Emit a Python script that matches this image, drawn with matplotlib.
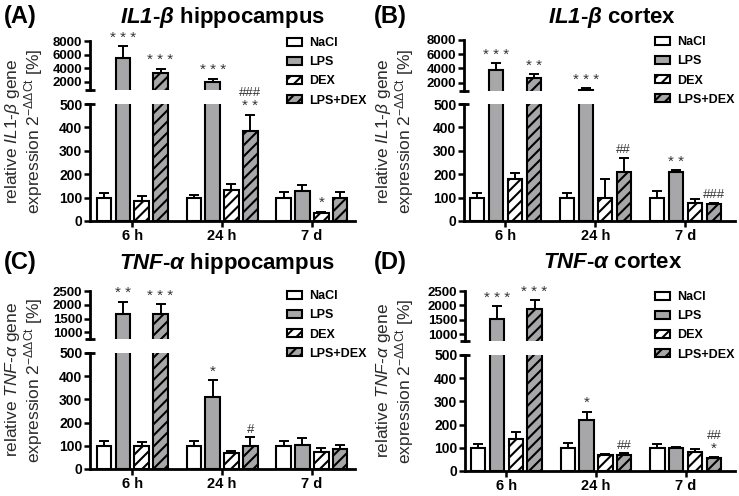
import numpy as np
import matplotlib
matplotlib.use("Agg")
import matplotlib.pyplot as plt

plt.rcParams['font.family'] = ['Liberation Sans', 'DejaVu Sans']
plt.rcParams['mathtext.fontset'] = 'custom'
plt.rcParams['mathtext.rm'] = 'Liberation Sans'
plt.rcParams['mathtext.it'] = 'Liberation Sans:italic'
plt.rcParams['mathtext.bf'] = 'Liberation Sans:bold'
plt.rcParams['mathtext.bfit'] = 'Liberation Sans:italic:bold'
plt.rcParams['hatch.linewidth'] = 1.5

# ---------------- data ----------------
groups = ['6 h', '24 h', '7 d']
treatments = ['NaCl', 'LPS', 'DEX', 'LPS+DEX']

# Panel A: IL1-beta hippocampus
A_mean = {'NaCl': [100, 100, 100], 'LPS': [5450, 2000, 127],
          'DEX': [84, 131, 35], 'LPS+DEX': [3300, 383, 98]}
A_err = {'NaCl': [18, 12, 24], 'LPS': [1800, 440, 27],
         'DEX': [23, 25, 5], 'LPS+DEX': [650, 72, 24]}
A_star = {'LPS': ['***', '***', ''], 'DEX': ['', '', '*'], 'LPS+DEX': ['***', '**', '']}
A_hash = {'LPS+DEX': ['', '###', '']}

# Panel B: IL1-beta cortex
B_mean = {'NaCl': [100, 100, 100], 'LPS': [3800, 1000, 209],
          'DEX': [178, 100, 79], 'LPS+DEX': [2600, 209, 72]}
B_err = {'NaCl': [21, 20, 28], 'LPS': [950, 200, 9],
         'DEX': [28, 78, 14], 'LPS+DEX': [560, 61, 7]}
B_star = {'LPS': ['***', '***', '**'], 'LPS+DEX': ['**', '', '']}
B_hash = {'LPS+DEX': ['', '##', '###']}

# Panel C: TNF-alpha hippocampus
C_mean = {'NaCl': [100, 100, 100], 'LPS': [1665, 311, 104],
          'DEX': [100, 71, 75], 'LPS+DEX': [1665, 100, 86]}
C_err = {'NaCl': [20, 20, 20], 'LPS': [450, 72, 30],
         'DEX': [17, 7, 17], 'LPS+DEX': [350, 38, 16]}
C_star = {'LPS': ['**', '*', ''], 'LPS+DEX': ['***', '', '']}
C_hash = {'LPS+DEX': ['', '#', '']}

# Panel D: TNF-alpha cortex
D_mean = {'NaCl': [100, 100, 100], 'LPS': [1510, 220, 98],
          'DEX': [140, 70, 84], 'LPS+DEX': [1875, 68, 57]}
D_err = {'NaCl': [15, 20, 15], 'LPS': [455, 36, 6],
         'DEX': [26, 3, 12], 'LPS+DEX': [315, 8, 4]}
D_star = {'LPS': ['***', '*', ''], 'LPS+DEX': ['***', '', '*']}
D_hash = {'LPS+DEX': ['', '##', '##']}

A_upper_ticks = [2000, 4000, 6000, 8000]
C_upper_ticks = [1000, 1500, 2000, 2500]
lower_ticks = [0, 100, 200, 300, 400, 500]

# ---------------- style ----------------
W, H = 739, 496
fig = plt.figure(figsize=(W / 100, H / 100), dpi=100)

facecolors = {'NaCl': 'white', 'LPS': '#a7a7a9', 'DEX': 'white', 'LPS+DEX': '#a7a7a9'}
hatches = {'NaCl': None, 'LPS': None, 'DEX': '///', 'LPS+DEX': '///'}
offsets = [-0.315, -0.105, 0.105, 0.315]
bw = 0.16


def rect(x0, x1, ytop, ybot):
    return [x0 / W, 1 - ybot / H, (x1 - x0) / W, (ybot - ytop) / H]


def sig_text(s):
    if set(s) == {'*'}:
        return ' '.join(s)
    return s


panels = [
    dict(mean=A_mean, err=A_err, star=A_star, hsh=A_hash, uticks=A_upper_ticks, ulim=(800, 8000),
         lo=rect(90, 355, 104, 221), hi=rect(90, 355, 41, 90), xlim=(-0.47, 2.48),
         letter='(A)', lpos=(4, 17), gene=r'$\mathbfit{IL1}$-$\mathbfit{β}$', region=' hippocampus',
         tpos=(223, 18), ylab_gene=r'$\mathit{IL1}$-$\mathit{β}$', ylpos=(24, 131),
         legpos=(287, 37)),
    dict(mean=B_mean, err=B_err, star=B_star, hsh=B_hash, uticks=A_upper_ticks, ulim=(800, 8000),
         lo=rect(464, 735, 104, 221), hi=rect(464, 735, 40, 91), xlim=(-0.46, 2.55),
         letter='(B)', lpos=(374, 17), gene=r'$\mathbfit{IL1}$-$\mathbfit{β}$', region=' cortex',
         tpos=(612, 18), ylab_gene=r'$\mathit{IL1}$-$\mathit{β}$', ylpos=(395, 131),
         legpos=(655, 36)),
    dict(mean=C_mean, err=C_err, star=C_star, hsh=C_hash, uticks=C_upper_ticks, ulim=(760, 2500),
         lo=rect(90, 355, 353, 469), hi=rect(90, 355, 291, 339), xlim=(-0.47, 2.48),
         letter='(C)', lpos=(4, 262), gene=r'$\mathbfit{TNF}$-$\mathbfit{α}$', region=' hippocampus',
         tpos=(227, 264), ylab_gene=r'$\mathit{TNF}$-$\mathit{α}$', ylpos=(24, 380),
         legpos=(287, 290)),
    dict(mean=D_mean, err=D_err, star=D_star, hsh=D_hash, uticks=C_upper_ticks, ulim=(760, 2500),
         lo=rect(465, 735, 355, 471), hi=rect(465, 735, 291, 341), xlim=(-0.46, 2.55),
         letter='(D)', lpos=(374, 262), gene=r'$\mathbfit{TNF}$-$\mathbfit{α}$', region=' cortex',
         tpos=(613, 263), ylab_gene=r'$\mathit{TNF}$-$\mathit{α}$', ylpos=(395, 381),
         legpos=(655, 291)),
]

for p in panels:
    ax_lo = fig.add_axes(p['lo'])
    ax_hi = fig.add_axes(p['hi'])
    xg = np.arange(len(groups))
    handles = []
    for i, t in enumerate(treatments):
        x = xg + offsets[i]
        m = np.array(p['mean'][t], dtype=float)
        e = np.array(p['err'][t], dtype=float)
        for ax in (ax_lo, ax_hi):
            b = ax.bar(x, m, bw, color=facecolors[t], edgecolor='black', linewidth=1.5,
                       hatch=hatches[t], zorder=2)
            ax.errorbar(x, m, yerr=[np.zeros_like(e), e], fmt='none', ecolor='black',
                        elinewidth=1.4, capsize=3.5, capthick=1.4, zorder=1)
            if ax is ax_lo:
                handles.append(b)
        # significance marks
        stars = p['star'].get(t, [''] * 3)
        hs = p['hsh'].get(t, [''] * 3)
        for j in range(len(groups)):
            top = m[j] + e[j]
            ax = ax_hi if m[j] > 500 else ax_lo
            off = 1
            if stars[j]:
                ax.annotate(sig_text(stars[j]), (x[j], top), xytext=(0, off),
                            textcoords='offset points', ha='center', va='bottom',
                            fontsize=11, color='#333333', annotation_clip=False)
                off += 10
            if hs[j]:
                ax.annotate(hs[j], (x[j], top), xytext=(0, off),
                            textcoords='offset points', ha='center', va='bottom',
                            fontsize=9.5, color='#333333', annotation_clip=False)

    # lower axes
    ax_lo.set_xlim(*p['xlim'])
    ax_lo.set_ylim(0, 500)
    ax_lo.set_yticks(lower_ticks)
    ax_lo.set_xticks(xg)
    ax_lo.set_xticklabels(groups)
    for s in ('top', 'right'):
        ax_lo.spines[s].set_visible(False)
    for s in ('left', 'bottom'):
        ax_lo.spines[s].set_linewidth(2)
    ax_lo.tick_params(axis='y', direction='out', length=4, width=1.8, labelsize=10, pad=1.5)
    ax_lo.tick_params(axis='x', direction='out', length=4, width=1.8, labelsize=10.5, pad=2)
    for lab in ax_lo.get_xticklabels() + ax_lo.get_yticklabels():
        lab.set_fontweight('bold')
    ax_lo.plot(0, 1, marker='_', markersize=7, mew=2, color='black',
               transform=ax_lo.transAxes, clip_on=False)

    # upper axes
    ax_hi.set_xlim(*p['xlim'])
    ax_hi.set_ylim(*p['ulim'])
    ax_hi.set_yticks(p['uticks'])
    ax_hi.set_xticks([])
    for s in ('top', 'right', 'bottom'):
        ax_hi.spines[s].set_visible(False)
    ax_hi.spines['left'].set_linewidth(2)
    ax_hi.tick_params(axis='y', direction='out', length=4, width=1.8, labelsize=9.5, pad=1.5)
    for lab in ax_hi.get_yticklabels():
        lab.set_fontweight('bold')
    ax_hi.plot(0, 0, marker='_', markersize=7, mew=2, color='black',
               transform=ax_hi.transAxes, clip_on=False)
    ax_lo.patch.set_alpha(0)
    ax_hi.patch.set_alpha(0)

    # legend
    fig.legend(handles, treatments, loc='upper left',
               bbox_to_anchor=(p['legpos'][0] / W, 1 - p['legpos'][1] / H),
               bbox_transform=fig.transFigure, frameon=False, borderpad=0,
               borderaxespad=0, handlelength=1.2, handleheight=0.6, handletextpad=0.6,
               labelspacing=0.58, prop=dict(weight='bold', size=9))

    # texts
    fig.text(p['lpos'][0] / W, 1 - p['lpos'][1] / H, p['letter'], fontsize=17,
             fontweight='bold', ha='left', va='center')
    fig.text(p['tpos'][0] / W, 1 - p['tpos'][1] / H, p['gene'] + p['region'], fontsize=16,
             fontweight='bold', ha='center', va='center')
    ylab = ('relative ' + p['ylab_gene'] + ' gene\n'
            + r'expression $\mathregular{2^{-ΔΔCt}}$ [%]')
    fig.text(p['ylpos'][0] / W, 1 - p['ylpos'][1] / H, ylab, rotation=90, fontsize=12.5,
             ha='center', va='center', linespacing=1.05, color='#2a2a2a')

fig.savefig('out.png', dpi=100)
